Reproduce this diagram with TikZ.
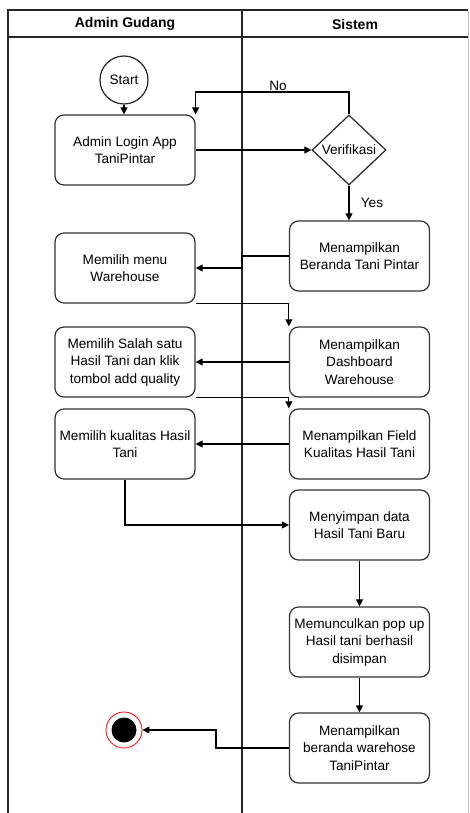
\documentclass[tikz,border=0pt]{standalone}
\usepackage{fontspec}
\setmainfont{Liberation Sans}
\usetikzlibrary{shapes.geometric,arrows.meta}
\begin{document}
\begin{tikzpicture}[x=1pt,y=-1pt,
  box/.style={draw=black!80, line width=1.2pt, rounded corners=9pt, minimum width=140pt, minimum height=70pt, align=center, font=\fontsize{13.6}{17.5}\selectfont, inner sep=1pt},
  arr/.style={-{Triangle[length=7pt,width=7pt]}, line width=1.1pt},
  lane/.style={line width=1.3pt, draw=black!85},
  lbl/.style={font=\fontsize{13.6}{16}\selectfont, inner sep=1pt},
  hdr/.style={font=\fontsize{14}{16}\selectfont\bfseries, inner sep=1pt}]
\useasboundingbox (0,0) rectangle (469,813);
% swimlanes
\draw[lane] (8,813) -- (8,10) -- (468,10);
\draw[lane] (8,37) -- (468,37);
\draw[lane] (242,10) -- (242,813);
\draw[line width=0.6pt, draw=black!25] (468,10) -- (468,813);
\node[hdr] (h1) at (125,24) {Admin Gudang};
\node[hdr] (h2) at (355,24) {Sistem};
% nodes
\node[draw=black!85, line width=1.2pt, circle, minimum size=48pt, inner sep=0pt, font=\fontsize{13.6}{16}\selectfont] (start) at (124,80) {Start};
\node[box] (login) at (125,150) {Admin Login App\\TaniPintar};
\node[draw=black!85, line width=1.2pt, diamond, minimum width=74pt, minimum height=70pt, inner sep=0pt, font=\fontsize{13.6}{16}\selectfont] (dia) at (349,150) {Verifikasi};
\node[box] (beranda) at (359.5,256) {Menampilkan\\Beranda Tani Pintar};
\node[box] (menu) at (125,268) {Memilih menu\\Warehouse};
\node[box] (dash) at (359.5,362) {Menampilkan\\Dashboard\\Warehouse};
\node[box] (salah) at (125,362) {Memilih Salah satu\\Hasil Tani dan klik\\tombol add quality};
\node[box] (field) at (359.5,444) {Menampilkan Field\\Kualitas Hasil Tani};
\node[box] (kual) at (125,444) {Memilih kualitas Hasil\\Tani};
\node[box] (simpan) at (359.5,525) {Menyimpan data\\Hasil Tani Baru};
\node[box] (popup) at (359.5,642) {Memunculkan pop up\\Hasil tani berhasil\\disimpan};
\node[box] (wh) at (359.5,748) {Menampilkan\\beranda warehose\\TaniPintar};
\node[circle, draw=red, line width=0.8pt, minimum size=36pt, inner sep=0pt] (end) at (124,730) {};
\fill (end.center) circle (12.5pt);
% connectors
\draw[arr] (start) -- (start |- login.north);
\draw[arr] (login.east) -- (dia.west);
\coordinate (nTop) at (349,92);
\draw[arr] (dia.north) -- (nTop) -| (login.north east);
\node[lbl] (no) at (278,86) {No};
\draw[arr] (dia.south) -- (dia.south |- beranda.north);
\node[lbl] (yes) at (372,203) {Yes};
\coordinate (b1) at (242,256);
\draw[arr] (beranda.west) -- (b1) |- (menu.east);
\draw[arr] (menu.south east) -| (dash.north west);
\draw[arr] (dash.west) -- (salah.east);
\draw[arr] (salah.south east) -| (field.north west);
\draw[arr] (field.west) -- (kual.east);
\draw[arr] (kual.south) |- (simpan.west);
\draw[arr] (simpan.south) -- (popup.north);
\draw[arr] (popup.south) -- (wh.north);
\coordinate (w1) at (216,748);
\draw[arr] (wh.west) -- (w1) |- (end.east);
\end{tikzpicture}
\end{document}
